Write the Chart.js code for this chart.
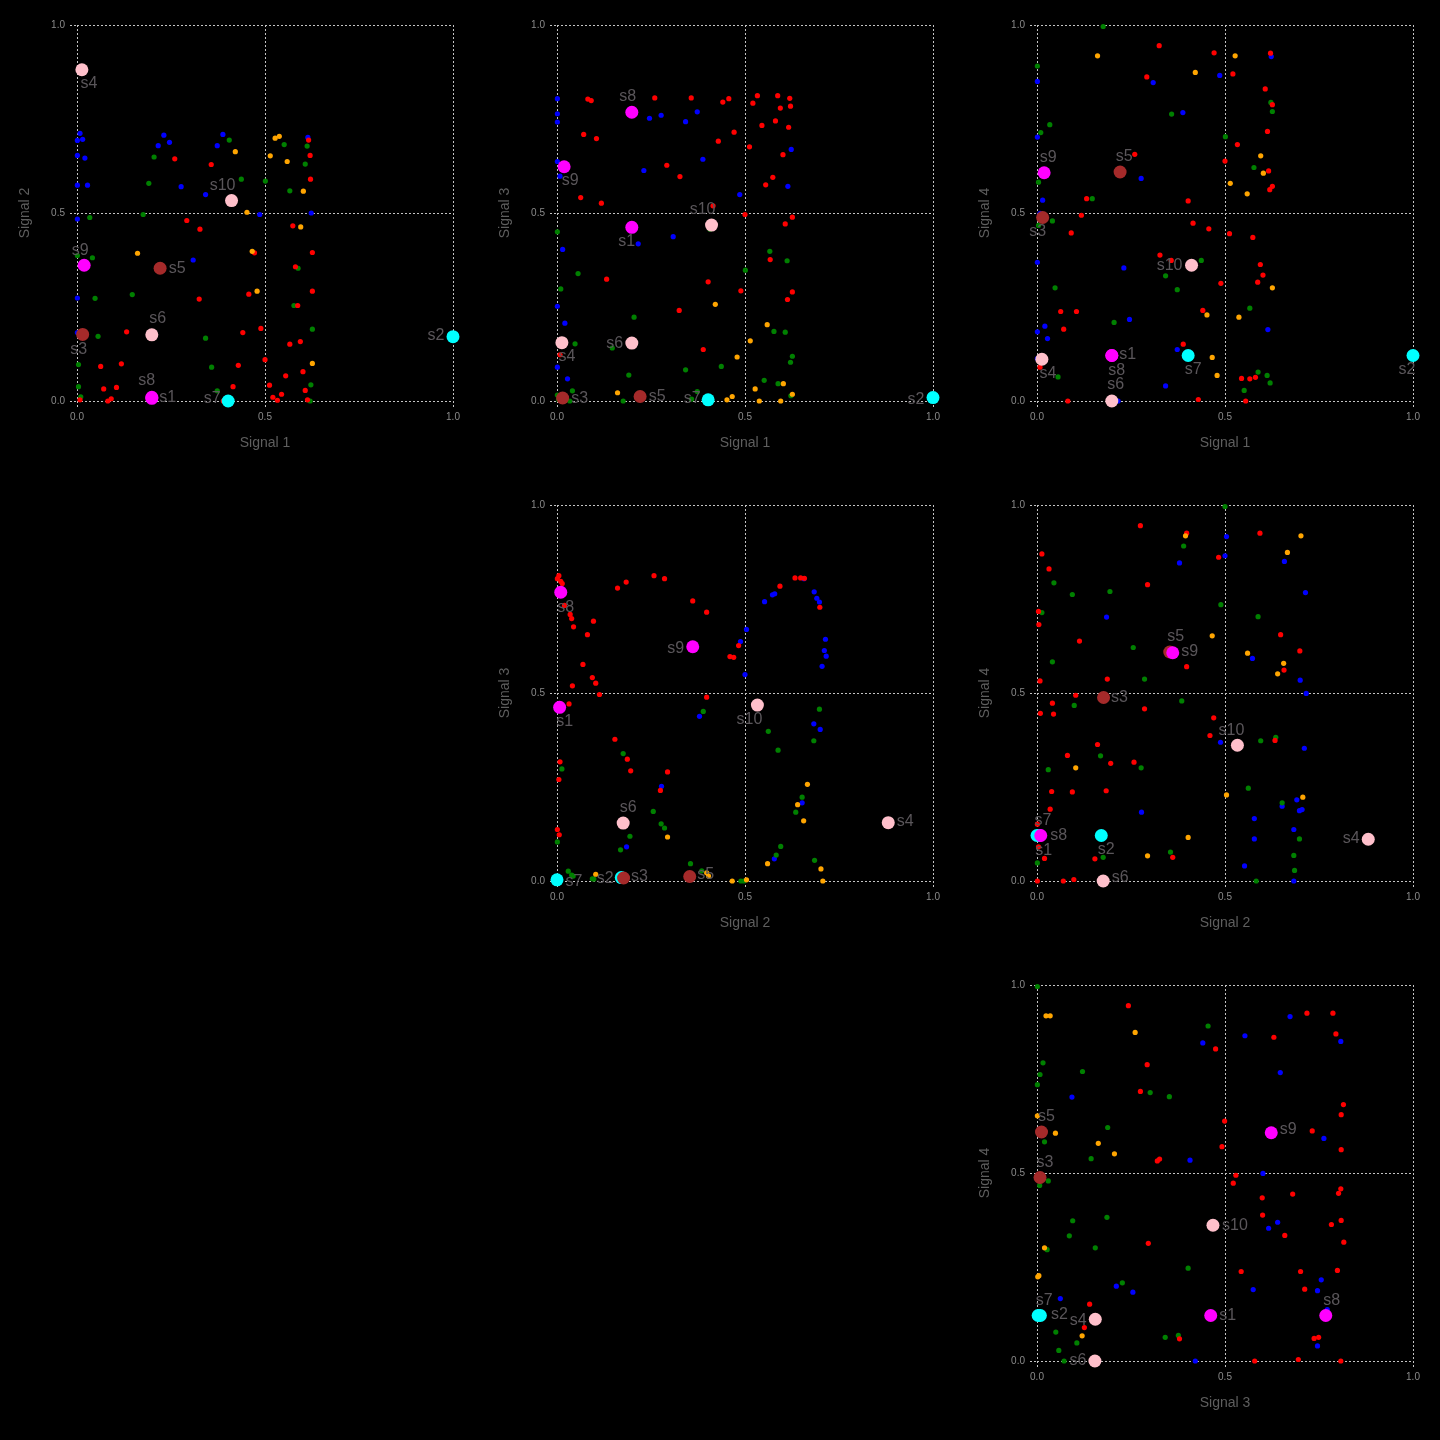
<!DOCTYPE html>
<html><head><meta charset="utf-8">
<script src="https://cdn.jsdelivr.net/npm/chart.js@4.4.0/dist/chart.umd.min.js"></script>
<style>
html,body{margin:0;padding:0;background:#000;}
#wrap{position:relative;width:1440px;height:1440px;background:#000;overflow:hidden;}
canvas{position:absolute;}
</style></head><body><div id="wrap"></div>
<script>
// ---- labelled signals: values on Signal 1..4 ----
const signalNames = ['s1','s2','s3','s4','s5','s6','s7','s8','s9','s10'];
const signal1 = [0.199, 1.000, 0.015, 0.013, 0.221, 0.199, 0.402, 0.199, 0.019, 0.411];
const signal2 = [0.007, 0.171, 0.177, 0.881, 0.353, 0.176, 0.000, 0.010, 0.361, 0.533];
const signal3 = [0.462, 0.009, 0.008, 0.155, 0.012, 0.154, 0.003, 0.768, 0.623, 0.468];
const signal4 = [0.121, 0.121, 0.488, 0.111, 0.609, 0.000, 0.121, 0.121, 0.607, 0.361];
const signalColors = ['#ff00ff','#00ffff','#a52a2a','#ffc0cb','#a52a2a','#ffc0cb','#00ffff','#ff00ff','#ff00ff','#ffc0cb'];
const axisLabels = ['Signal 1','Signal 2','Signal 3','Signal 4'];
const tickValues = [0, 0.5, 1.0];

// ---- sample points per panel ----
const p12_blue = [[0.008,0.712],[0.001,0.693],[0.015,0.696],[0.001,0.653],[0.021,0.646],[0.001,0.574],[0.028,0.574],[0.231,0.707],[0.216,0.679],[0.246,0.688],[0.277,0.570],[0.388,0.709],[0.373,0.679],[0.342,0.549],[0.486,0.496],[0.614,0.701],[0.623,0.500],[0.309,0.375],[0.001,0.484],[0.001,0.274],[0.001,0.182]];
const p12_green = [[0.205,0.649],[0.191,0.579],[0.176,0.496],[0.405,0.694],[0.437,0.590],[0.501,0.585],[0.551,0.682],[0.612,0.678],[0.607,0.630],[0.566,0.559],[0.034,0.488],[0.001,0.387],[0.041,0.381],[0.048,0.273],[0.147,0.283],[0.056,0.172],[0.342,0.167],[0.004,0.097],[0.358,0.090],[0.004,0.038],[0.010,0.011],[0.373,0.027],[0.588,0.353],[0.577,0.254],[0.626,0.191],[0.622,0.043],[0.620,0.0]];
const p12_red = [[0.260,0.644],[0.357,0.629],[0.292,0.480],[0.327,0.457],[0.472,0.394],[0.325,0.271],[0.457,0.284],[0.441,0.182],[0.489,0.193],[0.132,0.184],[0.118,0.099],[0.063,0.092],[0.071,0.032],[0.105,0.036],[0.091,0.006],[0.082,0.0],[0.008,0.003],[0.429,0.095],[0.415,0.038],[0.389,0.0],[0.500,0.110],[0.512,0.042],[0.521,0.010],[0.533,0.002],[0.544,0.018],[0.555,0.067],[0.566,0.151],[0.594,0.158],[0.601,0.078],[0.607,0.028],[0.613,0.003],[0.616,0.694],[0.620,0.653],[0.621,0.590],[0.574,0.466],[0.626,0.395],[0.581,0.357],[0.626,0.292],[0.587,0.254]];
const p12_orange = [[0.421,0.663],[0.452,0.502],[0.466,0.398],[0.479,0.292],[0.514,0.652],[0.527,0.699],[0.538,0.704],[0.559,0.637],[0.602,0.558],[0.595,0.463],[0.626,0.100],[0.161,0.393]];

const p13_red = [[0.082,0.803],[0.091,0.799],[0.260,0.806],[0.357,0.806],[0.441,0.795],[0.457,0.804],[0.521,0.792],[0.533,0.812],[0.587,0.812],[0.619,0.805],[0.594,0.779],[0.621,0.784],[0.581,0.745],[0.616,0.728],[0.545,0.733],[0.471,0.715],[0.429,0.691],[0.512,0.676],[0.601,0.655],[0.071,0.709],[0.105,0.698],[0.292,0.627],[0.327,0.597],[0.574,0.595],[0.555,0.575],[0.063,0.541],[0.118,0.526],[0.415,0.519],[0.500,0.496],[0.626,0.489],[0.607,0.471],[0.567,0.376],[0.132,0.324],[0.402,0.317],[0.489,0.293],[0.626,0.290],[0.613,0.270],[0.325,0.241],[0.389,0.137],[0.008,0.123]];
const p13_blue = [[0.001,0.804],[0.001,0.764],[0.001,0.742],[0.246,0.752],[0.277,0.760],[0.342,0.743],[0.373,0.769],[0.388,0.643],[0.623,0.669],[0.001,0.637],[0.008,0.598],[0.231,0.613],[0.486,0.549],[0.614,0.571],[0.309,0.437],[0.216,0.418],[0.015,0.403],[0.001,0.252],[0.021,0.207],[0.001,0.090],[0.028,0.059]];
const p13_green = [[0.001,0.450],[0.407,0.457],[0.566,0.398],[0.612,0.373],[0.501,0.348],[0.056,0.339],[0.010,0.298],[0.205,0.223],[0.577,0.185],[0.607,0.183],[0.048,0.152],[0.147,0.141],[0.626,0.119],[0.621,0.103],[0.437,0.092],[0.342,0.083],[0.191,0.069],[0.551,0.055],[0.588,0.046],[0.041,0.027],[0.373,0.025],[0.001,0.016],[0.004,0.004],[0.034,0.0],[0.176,0.0],[0.358,0.005],[0.622,0.014]];
const p13_orange = [[0.421,0.257],[0.559,0.203],[0.514,0.160],[0.479,0.117],[0.602,0.046],[0.527,0.032],[0.626,0.018],[0.466,0.012],[0.452,0.003],[0.538,0.0],[0.595,0.0],[0.161,0.022]];

const p14_green = [[0.176,0.996],[0.001,0.891],[0.034,0.735],[0.010,0.714],[0.358,0.763],[0.501,0.703],[0.622,0.794],[0.626,0.770],[0.577,0.621],[0.004,0.582],[0.147,0.538],[0.041,0.479],[0.004,0.467],[0.437,0.374],[0.342,0.333],[0.373,0.296],[0.048,0.301],[0.566,0.247],[0.205,0.209],[0.056,0.064],[0.588,0.077],[0.612,0.068],[0.620,0.048],[0.551,0.028],[0.407,0.113]];
const p14_blue = [[0.001,0.850],[0.309,0.847],[0.388,0.767],[0.486,0.866],[0.623,0.916],[0.001,0.702],[0.277,0.592],[0.015,0.534],[0.008,0.499],[0.001,0.369],[0.231,0.354],[0.246,0.217],[0.021,0.199],[0.001,0.184],[0.028,0.166],[0.373,0.137],[0.614,0.190],[0.342,0.040],[0.216,0.0],[0.001,0.113]];
const p14_red = [[0.325,0.945],[0.471,0.926],[0.621,0.925],[0.292,0.862],[0.521,0.870],[0.607,0.830],[0.626,0.788],[0.613,0.717],[0.533,0.682],[0.260,0.656],[0.500,0.638],[0.616,0.612],[0.626,0.571],[0.619,0.562],[0.132,0.538],[0.402,0.532],[0.118,0.494],[0.415,0.473],[0.457,0.458],[0.512,0.445],[0.091,0.447],[0.574,0.435],[0.327,0.388],[0.357,0.374],[0.594,0.363],[0.601,0.335],[0.587,0.316],[0.489,0.313],[0.441,0.241],[0.063,0.238],[0.105,0.238],[0.071,0.191],[0.389,0.151],[0.008,0.090],[0.544,0.060],[0.566,0.059],[0.581,0.063],[0.429,0.004],[0.555,0.0],[0.082,0.0]];
const p14_orange = [[0.161,0.918],[0.421,0.874],[0.527,0.918],[0.595,0.652],[0.602,0.606],[0.514,0.579],[0.559,0.551],[0.626,0.301],[0.452,0.229],[0.537,0.223],[0.466,0.116],[0.479,0.068]];

const p23_red = [[0.005,0.812],[0.001,0.804],[0.010,0.797],[0.014,0.791],[0.020,0.733],[0.035,0.709],[0.039,0.698],[0.044,0.676],[0.097,0.691],[0.081,0.655],[0.069,0.576],[0.094,0.541],[0.103,0.526],[0.041,0.519],[0.113,0.496],[0.032,0.471],[0.161,0.779],[0.184,0.795],[0.258,0.812],[0.286,0.804],[0.361,0.745],[0.398,0.715],[0.593,0.784],[0.633,0.806],[0.648,0.806],[0.658,0.805],[0.699,0.728],[0.483,0.626],[0.460,0.597],[0.470,0.595],[0.398,0.489],[0.154,0.377],[0.187,0.324],[0.196,0.293],[0.294,0.290],[0.275,0.241],[0.008,0.317],[0.005,0.270],[0.001,0.137],[0.006,0.123]];
const p23_blue = [[0.552,0.743],[0.573,0.761],[0.579,0.764],[0.488,0.637],[0.504,0.669],[0.500,0.549],[0.684,0.769],[0.691,0.752],[0.698,0.742],[0.657,0.804],[0.714,0.643],[0.711,0.613],[0.716,0.598],[0.705,0.571],[0.683,0.418],[0.700,0.403],[0.379,0.438],[0.278,0.252],[0.652,0.208],[0.185,0.091],[0.578,0.059]];
const p23_green = [[0.389,0.451],[0.562,0.398],[0.588,0.348],[0.698,0.457],[0.683,0.373],[0.176,0.339],[0.013,0.298],[0.256,0.185],[0.277,0.152],[0.286,0.141],[0.194,0.119],[0.169,0.083],[0.001,0.104],[0.652,0.223],[0.635,0.183],[0.595,0.092],[0.583,0.069],[0.685,0.055],[0.355,0.046],[0.030,0.026],[0.039,0.016],[0.043,0.013],[0.094,0.006],[0.098,0.005],[0.385,0.027],[0.489,0.0],[0.497,0.0]];
const p23_orange = [[0.666,0.257],[0.640,0.203],[0.656,0.160],[0.294,0.117],[0.560,0.046],[0.702,0.032],[0.707,0.0],[0.504,0.003],[0.466,0.0],[0.398,0.022],[0.403,0.013],[0.103,0.018]];

const p24_red = [[0.275,0.945],[0.398,0.925],[0.483,0.861],[0.593,0.925],[0.013,0.870],[0.032,0.830],[0.294,0.788],[0.004,0.717],[0.005,0.682],[0.113,0.638],[0.398,0.570],[0.008,0.532],[0.187,0.537],[0.103,0.494],[0.041,0.473],[0.009,0.446],[0.044,0.444],[0.286,0.458],[0.470,0.434],[0.460,0.387],[0.161,0.363],[0.081,0.334],[0.196,0.313],[0.258,0.316],[0.039,0.238],[0.094,0.237],[0.184,0.240],[0.035,0.191],[0.001,0.151],[0.020,0.060],[0.154,0.059],[0.361,0.063],[0.001,0.0],[0.070,0.0],[0.098,0.004],[0.648,0.655],[0.699,0.612],[0.657,0.561],[0.633,0.374],[0.004,0.091]];
const p24_blue = [[0.504,0.916],[0.500,0.865],[0.379,0.846],[0.658,0.850],[0.714,0.767],[0.185,0.702],[0.573,0.592],[0.700,0.534],[0.716,0.499],[0.488,0.369],[0.711,0.353],[0.278,0.183],[0.691,0.216],[0.652,0.199],[0.698,0.187],[0.705,0.190],[0.578,0.166],[0.683,0.137],[0.578,0.112],[0.552,0.040],[0.683,0.0]];
const p24_green = [[0.500,0.996],[0.390,0.891],[0.045,0.793],[0.094,0.762],[0.194,0.770],[0.013,0.714],[0.489,0.735],[0.588,0.703],[0.256,0.621],[0.041,0.583],[0.286,0.537],[0.099,0.467],[0.385,0.479],[0.595,0.373],[0.635,0.382],[0.169,0.333],[0.030,0.296],[0.277,0.301],[0.562,0.247],[0.652,0.208],[0.698,0.112],[0.001,0.048],[0.176,0.063],[0.355,0.077],[0.683,0.068],[0.685,0.028],[0.583,0.0]];
const p24_orange = [[0.395,0.918],[0.702,0.918],[0.666,0.874],[0.466,0.652],[0.560,0.606],[0.656,0.579],[0.640,0.551],[0.103,0.301],[0.504,0.229],[0.707,0.223],[0.402,0.116],[0.294,0.067]];

const p34_red = [[0.243,0.945],[0.718,0.925],[0.787,0.925],[0.630,0.861],[0.795,0.870],[0.475,0.830],[0.293,0.788],[0.275,0.717],[0.815,0.682],[0.809,0.655],[0.499,0.638],[0.732,0.612],[0.809,0.562],[0.492,0.570],[0.320,0.532],[0.326,0.537],[0.529,0.494],[0.522,0.473],[0.808,0.458],[0.802,0.446],[0.680,0.444],[0.599,0.434],[0.600,0.388],[0.809,0.374],[0.783,0.363],[0.659,0.334],[0.296,0.313],[0.816,0.316],[0.543,0.238],[0.701,0.238],[0.799,0.241],[0.712,0.191],[0.140,0.151],[0.126,0.089],[0.379,0.059],[0.737,0.060],[0.749,0.063],[0.579,0.0],[0.695,0.004],[0.808,0.0]];
const p34_blue = [[0.673,0.916],[0.553,0.865],[0.441,0.846],[0.808,0.850],[0.647,0.767],[0.093,0.702],[0.763,0.592],[0.407,0.534],[0.601,0.499],[0.640,0.369],[0.616,0.353],[0.211,0.199],[0.255,0.183],[0.756,0.216],[0.746,0.187],[0.575,0.190],[0.062,0.166],[0.772,0.137],[0.746,0.040],[0.421,0.0]];
const p34_green = [[0.001,0.996],[0.455,0.891],[0.016,0.793],[0.008,0.762],[0.121,0.770],[0.001,0.735],[0.301,0.714],[0.352,0.703],[0.188,0.621],[0.020,0.583],[0.144,0.538],[0.030,0.479],[0.007,0.467],[0.095,0.373],[0.186,0.382],[0.086,0.333],[0.155,0.301],[0.027,0.296],[0.402,0.247],[0.227,0.208],[0.050,0.077],[0.106,0.048],[0.341,0.063],[0.376,0.068],[0.058,0.028],[0.072,0.0],[0.462,0.113]];
const p34_orange = [[0.024,0.918],[0.035,0.918],[0.261,0.874],[0.001,0.652],[0.049,0.606],[0.163,0.579],[0.206,0.551],[0.020,0.301],[0.002,0.224],[0.005,0.227],[0.120,0.067]];

// ---- label placement (pixel offsets of text centre from its point), per panel ----
const off12 = [[16,-1],[-17,-1],[-4,15],[7,14],[17,0],[6,-16],[-16,-2],[-5,-17],[-4,-15],[-9,-15]];
const off13 = [[-5,14],[-17,2],[17,1],[5,14],[17,0],[-17,0],[-16,-1],[-4,-16],[6,14],[-9,-15]];
const off14 = [[16,-1],[-6,14],[-5,14],[6,14],[4,-15],[4,-16],[5,14],[5,15],[4,-15],[-22,0]];
const off23 = [[5,14],[-16,1],[16,-1],[17,-1],[16,-2],[5,-16],[17,2],[5,15],[-17,2],[-8,15]];
const off24 = [[4,15],[5,14],[16,0],[-17,-1],[6,-15],[17,-3],[6,-15],[18,0],[17,-1],[-6,-15]];
const off34 = [[17,0],[19,-1],[5,-15],[-17,1],[5,-15],[-17,0],[6,-15],[6,-15],[17,-3],[22,0]];

const signals = [signal1, signal2, signal3, signal4];
const colorMap = {red:'#ff0000', green:'#008000', blue:'#0000ff', orange:'#ffa500'};
const FONT = '"Liberation Sans", Arial, Helvetica, sans-serif';

const panels = [
  {xi:0, yi:1, row:0, col:0, small:{orange:p12_orange, red:p12_red, green:p12_green, blue:p12_blue}, offsets:off12},
  {xi:0, yi:2, row:0, col:1, small:{orange:p13_orange, red:p13_red, green:p13_green, blue:p13_blue}, offsets:off13},
  {xi:0, yi:3, row:0, col:2, small:{orange:p14_orange, red:p14_red, green:p14_green, blue:p14_blue}, offsets:off14},
  {xi:1, yi:2, row:1, col:1, small:{orange:p23_orange, red:p23_red, green:p23_green, blue:p23_blue}, offsets:off23},
  {xi:1, yi:3, row:1, col:2, small:{orange:p24_orange, red:p24_red, green:p24_green, blue:p24_blue}, offsets:off24},
  {xi:2, yi:3, row:2, col:2, small:{orange:p34_orange, red:p34_red, green:p34_green, blue:p34_blue}, offsets:off34}
];

const labelPlugin = {
  id: 'sigLabels',
  afterDatasetsDraw(chart, args, opts) {
    const p = opts.panel;
    if (!p) return;
    const {ctx} = chart;
    const xs = chart.scales.x, ys = chart.scales.y;
    ctx.save();
    ctx.font = '16px ' + FONT;
    ctx.fillStyle = '#5a565a';
    ctx.textAlign = 'center';
    ctx.textBaseline = 'middle';
    signalNames.forEach((n, i) => {
      const px = xs.getPixelForValue(signals[p.xi][i]);
      const py = ys.getPixelForValue(signals[p.yi][i]);
      const [dx, dy] = p.offsets[i];
      ctx.fillText(n, px + dx, py + dy);
    });
    ctx.restore();
  }
};

function axis(title, isX) {
  return {
    type: 'linear', min: 0, max: 1,
    afterBuildTicks: s => { s.ticks = tickValues.map(v => ({value: v})); },
    ticks: {
      callback: v => Number(v).toFixed(1),
      color: '#8a8a8a', font: {family: FONT, size: 10},
      padding: isX ? 3 : 5, maxRotation: 0, autoSkip: false
    },
    grid: {color: '#c4c4c4', lineWidth: 1, drawTicks: true, tickLength: 7,
           tickColor: '#c4c4c4', tickWidth: 1, tickBorderDash: [2, 2]},
    border: {display: false, dash: [2, 2]},
    title: {display: true, text: title, color: '#5e5e5e', font: {family: FONT, size: 14},
            padding: isX ? {top: 0, bottom: 28} : {top: 17, bottom: 0}},
    afterFit: s => { if (isX) s.height = 79; else s.width = 77; }
  };
}

const wrap = document.getElementById('wrap');
panels.forEach(p => {
  const c = document.createElement('canvas');
  c.width = 480; c.height = 480;
  c.style.left = (p.col * 480) + 'px';
  c.style.top = (p.row * 480) + 'px';
  c.style.width = '480px'; c.style.height = '480px';
  wrap.appendChild(c);
  const datasets = [{
    label: 'signals',
    data: signalNames.map((n, i) => ({x: signals[p.xi][i], y: signals[p.yi][i]})),
    pointRadius: 6.5, pointBackgroundColor: signalColors, pointBorderWidth: 0,
    pointBorderColor: signalColors, clip: false
  }];
  ['orange', 'red', 'green', 'blue'].forEach(k => {
    datasets.push({
      label: k,
      data: p.small[k].map(([x, y]) => ({x, y})),
      pointRadius: 2.6, pointBackgroundColor: colorMap[k], pointBorderWidth: 0,
      pointBorderColor: colorMap[k], clip: false
    });
  });
  new Chart(c, {
    type: 'scatter',
    data: {datasets},
    options: {
      responsive: false, animation: false, devicePixelRatio: 1,
      layout: {padding: {top: 25, right: 27, left: 0, bottom: 0}},
      plugins: {legend: {display: false}, tooltip: {enabled: false}, sigLabels: {panel: p}},
      scales: {x: axis(axisLabels[p.xi], true), y: axis(axisLabels[p.yi], false)}
    },
    plugins: [labelPlugin]
  });
});
</script>
</body></html>
